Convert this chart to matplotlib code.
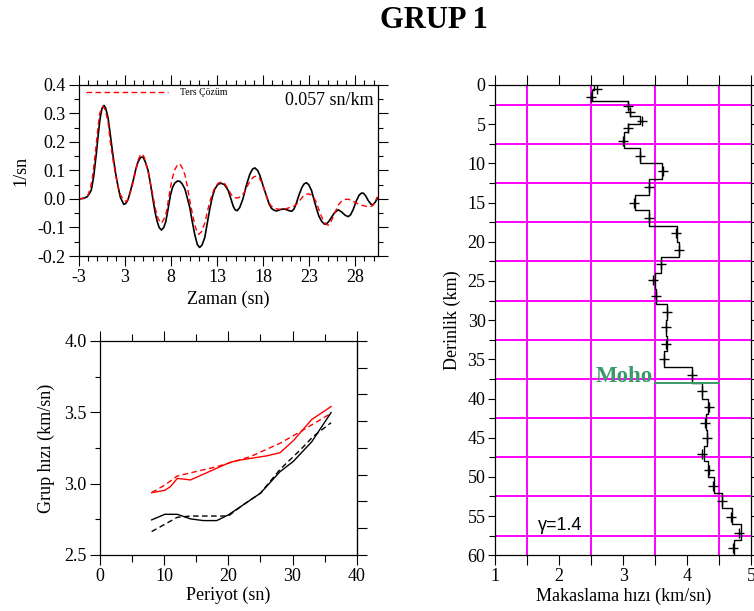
import numpy as np
import matplotlib
matplotlib.use("Agg")
import matplotlib.pyplot as plt
from matplotlib.ticker import MultipleLocator, FixedLocator

plt.rcParams['font.family'] = ['Liberation Serif', 'DejaVu Serif']
plt.rcParams['xtick.direction'] = 'out'
plt.rcParams['ytick.direction'] = 'out'

# --- ust panel: dalga formlari (zaman, genlik) ---
t_gozlem = [-2, -1.5, -1.1, -0.85, -0.66, -0.4, -0.12, 0.1, 0.3, 0.5, 0.72, 0.9, 1.15, 1.4,
            1.7, 2.0, 2.24, 2.5, 2.86, 3.1, 3.33, 3.6, 3.9, 4.15, 4.4, 4.7, 4.96, 5.2, 5.5,
            5.75, 6.04, 6.25, 6.48, 6.7, 6.95, 7.2, 7.42, 7.7, 7.93, 8.15, 8.4, 8.7, 8.94,
            9.2, 9.5, 9.75, 10.03, 10.3, 10.57, 10.85, 11.1, 11.35, 11.66, 11.9, 12.2, 12.5,
            12.75, 13.1, 13.47, 13.8, 14.2, 14.5, 14.74, 14.95, 15.17, 15.45, 15.8, 16.15,
            16.55, 16.85, 17.1, 17.4, 17.64, 18.0, 18.36, 18.65, 18.9, 19.2, 19.45, 19.8,
            20.17, 20.5, 20.8, 21.1, 21.35, 21.6, 21.9, 22.2, 22.45, 22.7, 22.95, 23.25,
            23.5, 23.8, 24.05, 24.34, 24.6, 24.8, 25.1, 25.4, 25.75, 26.15, 26.5, 26.9,
            27.24, 27.5, 27.8, 28.1, 28.43, 28.7, 28.9, 29.15, 29.4, 29.7, 29.9, 30.15, 30.4]
a_gozlem = [0.0, 0.002, 0.008, 0.02, 0.032, 0.08, 0.16, 0.23, 0.285, 0.318, 0.328, 0.318,
            0.285, 0.225, 0.15, 0.085, 0.043, 0.005, -0.019, -0.015, -0.002, 0.03, 0.067,
            0.102, 0.13, 0.146, 0.147, 0.13, 0.10, 0.055, -0.004, -0.045, -0.078, -0.1,
            -0.109, -0.1, -0.08, -0.03, 0.014, 0.04, 0.056, 0.063, 0.062, 0.053, 0.035,
            0.005, -0.03, -0.08, -0.125, -0.16, -0.17, -0.162, -0.135, -0.09, -0.035, 0.01,
            0.035, 0.052, 0.055, 0.05, 0.03, 0.0, -0.025, -0.038, -0.041, -0.03, 0.0,
            0.045, 0.087, 0.105, 0.109, 0.1, 0.083, 0.045, 0.01, -0.018, -0.033, -0.04,
            -0.042, -0.038, -0.035, -0.037, -0.041, -0.043, -0.035, -0.015, 0.015, 0.04,
            0.053, 0.057, 0.05, 0.03, 0.0, -0.035, -0.06, -0.078, -0.087, -0.089, -0.08,
            -0.065, -0.048, -0.038, -0.045, -0.057, -0.062, -0.055, -0.035, -0.008, 0.014,
            0.021, 0.02, 0.01, -0.005, -0.018, -0.021, -0.012, 0.002]

t_ters = [-2, -1.5, -1.02, -0.75, -0.48, -0.2, 0.07, 0.25, 0.43, 0.6, 0.8, 1.0, 1.15, 1.4,
          1.7, 2.0, 2.24, 2.5, 2.78, 3.14, 3.4, 3.65, 3.9, 4.15, 4.4, 4.65, 4.88, 5.1, 5.3,
          5.5, 5.75, 6.04, 6.3, 6.6, 6.95, 7.2, 7.5, 7.75, 7.93, 8.15, 8.4, 8.7, 8.94, 9.2,
          9.5, 9.75, 10.03, 10.3, 10.57, 10.8, 11.0, 11.3, 11.66, 11.9, 12.2, 12.5, 12.75,
          13.1, 13.47, 13.8, 14.2, 14.5, 14.74, 15.0, 15.3, 15.65, 16.0, 16.35, 16.73,
          17.0, 17.27, 17.55, 17.82, 18.2, 18.54, 18.8, 19.1, 19.5, 19.8, 20.2, 20.5,
          20.9, 21.25, 21.55, 21.8, 22.05, 22.3, 22.6, 22.9, 23.2, 23.45, 23.75, 24.0,
          24.25, 24.5, 24.8, 25.07, 25.35, 25.6, 25.9, 26.15, 26.45, 26.7, 27.0, 27.24,
          27.6, 27.97, 28.35, 28.7, 29.05, 29.4, 29.7, 29.9, 30.15, 30.4]
a_ters = [0.0, 0.003, 0.014, 0.04, 0.09, 0.17, 0.255, 0.3, 0.318, 0.325, 0.315, 0.292,
          0.27, 0.2, 0.135, 0.08, 0.043, 0.015, 0.0, -0.01, 0.005, 0.03, 0.062, 0.1, 0.135,
          0.153, 0.158, 0.145, 0.12, 0.097, 0.055, 0.01, -0.035, -0.07, -0.085, -0.072,
          -0.045, 0.005, 0.04, 0.075, 0.103, 0.12, 0.123, 0.11, 0.085, 0.045, -0.005,
          -0.05, -0.09, -0.115, -0.124, -0.115, -0.085, -0.05, -0.01, 0.02, 0.04, 0.055,
          0.06, 0.055, 0.035, 0.017, 0.007, 0.004, 0.004, 0.01, 0.025, 0.05, 0.07, 0.078,
          0.08, 0.075, 0.06, 0.025, -0.005, -0.022, -0.031, -0.035, -0.036, -0.035, -0.034,
          -0.03, -0.027, -0.02, -0.013, -0.002, 0.008, 0.015, 0.018, 0.015, 0.008, -0.01,
          -0.033, -0.055, -0.073, -0.088, -0.092, -0.08, -0.062, -0.04, -0.021, -0.01,
          -0.004, -0.001, -0.001, -0.005, -0.012, -0.018, -0.022, -0.025, -0.027, -0.026,
          -0.023, -0.01, 0.008]

zaman_tick = [-2, 3, 8, 13, 18, 23, 28]
zaman_etiket = ['-3', '3', '8', '13', '18', '23', '28']
yavaslik = '0.057 sn/km'

# --- alt panel: grup hizi dispersiyonu ---
p_kirmizi = [8.05, 10.1, 11.0, 12.05, 14.1, 20.3, 21.8, 26.0, 28.05, 30.1, 33.0, 36.0]
u_kirmizi = [2.937, 2.953, 2.98, 3.037, 3.026, 3.15, 3.165, 3.195, 3.217, 3.30, 3.45, 3.54]
p_kirmizi_k = [8.05, 10.1, 12.05, 18.2, 23.4, 28.05, 31.2, 36.0]
u_kirmizi_k = [2.937, 2.99, 3.054, 3.119, 3.189, 3.283, 3.364, 3.493]
p_siyah = [8.05, 10.1, 12.05, 14.1, 16.1, 18.2, 20.0, 22.3, 25.0, 28.05, 30.1, 33.0, 36.0]
u_siyah = [2.746, 2.785, 2.785, 2.753, 2.741, 2.741, 2.781, 2.851, 2.933, 3.084, 3.155, 3.294, 3.498]
p_siyah_k = [8.05, 12.05, 14.1, 20.0, 22.3, 25.0, 28.05, 31.2, 33.2, 36.0]
u_siyah_k = [2.664, 2.764, 2.773, 2.773, 2.851, 2.933, 3.10, 3.236, 3.33, 3.427]

# --- sag panel: makaslama hizi profili ---
tabaka_ust = [0, 0.7, 2, 3, 4, 5, 6, 8, 10, 12, 14, 16, 18, 20, 22, 24, 26, 28, 30, 32,
              34, 36, 38, 40, 42, 44, 46, 48, 50, 52, 54, 56, 58]
tabaka_v = [2.55, 2.51, 3.07, 3.11, 3.27, 3.08, 3.01, 3.27, 3.61, 3.41, 3.18, 3.40, 3.84,
            3.88, 3.59, 3.50, 3.52, 3.69, 3.67, 3.68, 3.64, 4.07, 4.24, 4.33, 4.29, 4.31,
            4.26, 4.33, 4.42, 4.55, 4.71, 4.84, 4.73]
arti_d = [0.55, 1.57, 2.67, 3.5, 4.6, 5.5, 7.1, 9.0, 11.0, 13.0, 15.0, 17.0, 18.9, 21.0,
          22.9, 24.9, 26.9, 28.9, 30.9, 33.1, 35.0, 37.0, 39.1, 41.1, 43.1, 45.0, 47.05,
          49.1, 51.1, 53.1, 55.1, 57.1, 59.1]
arti_v = [2.59, 2.49, 3.08, 3.11, 3.30, 3.08, 3.0, 3.26, 3.625, 3.40, 3.17, 3.40, 3.83,
          3.88, 3.59, 3.47, 3.51, 3.69, 3.67, 3.67, 3.64, 4.07, 4.24, 4.34, 4.28, 4.31,
          4.24, 4.34, 4.41, 4.54, 4.69, 4.82, 4.72]
moho_derinlik = 38
gamma = 1.4

fig = plt.figure(figsize=(7.54, 6.11), dpi=100)
fig.text(0.576, 0.966, 'GRUP 1', ha='center', va='center', fontsize=22, fontweight='bold')


def cerceve(ax):
    ax.tick_params(which='both', top=True, right=True, labelsize=13, width=0.8,
                   color='black', pad=2)
    ax.tick_params(which='major', length=7.5)
    ax.tick_params(which='minor', length=3.5)
    for s in ax.spines.values():
        s.set_linewidth(0.9)


kesik = (0, (4, 2.5))

# ust sol
ax1 = fig.add_axes([0.1048, 0.581, 0.3969, 0.280])
ax1.plot(t_gozlem, a_gozlem, color='black', lw=1.2)
ax1.plot(t_ters, a_ters, color='red', lw=1.0, ls=kesik, label='Ters Çözüm')
ax1.set_xlim(-2, 30.5)
ax1.set_ylim(-0.2, 0.4)
ax1.xaxis.set_major_locator(FixedLocator(zaman_tick))
ax1.set_xticklabels(zaman_etiket)
ax1.xaxis.set_minor_locator(MultipleLocator(1))
ax1.yaxis.set_major_locator(MultipleLocator(0.1))
ax1.yaxis.set_minor_locator(MultipleLocator(0.05))
ax1.set_yticklabels([f'{v:.1f}' for v in ax1.get_yticks()])
cerceve(ax1)
ax1.set_xlabel('Zaman (sn)', fontsize=13, labelpad=3)
ax1.set_ylabel('1/sn', fontsize=13, labelpad=6)
ax1.legend(loc='upper left', fontsize=7, frameon=False, handlelength=8.5,
           bbox_to_anchor=(0.0, 1.02), borderaxespad=0.3, handletextpad=1.2)
ax1.text(0.985, 0.91, yavaslik, transform=ax1.transAxes, ha='right', va='center',
         fontsize=13)

# alt sol
ax2 = fig.add_axes([0.1326, 0.0917, 0.3405, 0.3502])
ax2.plot(p_kirmizi, u_kirmizi, color='red', lw=1.0)
ax2.plot(p_kirmizi_k, u_kirmizi_k, color='red', lw=1.0, ls=kesik)
ax2.plot(p_siyah, u_siyah, color='black', lw=1.0)
ax2.plot(p_siyah_k, u_siyah_k, color='black', lw=1.0, ls=kesik)
ax2.set_xlim(0, 40)
ax2.set_ylim(2.5, 4.0)
ax2.xaxis.set_major_locator(MultipleLocator(10))
ax2.xaxis.set_minor_locator(MultipleLocator(5))
ax2.yaxis.set_major_locator(MultipleLocator(0.5))
ax2.yaxis.set_minor_locator(MultipleLocator(0.25))
ax2.set_yticklabels([f'{v:.1f}' for v in ax2.get_yticks()])
cerceve(ax2)
ax2.tick_params(axis='x', which='minor', top=True, length=5)
ax2.tick_params(which='both', right=False)
sag = ax2.secondary_yaxis('right')
sag.set_yticks(np.linspace(2.5, 4.0, 9))
sag.set_yticklabels([])
sag.tick_params(length=7.5, width=0.8)
ax2.set_xlabel('Periyot (sn)', fontsize=13, labelpad=1)
ax2.set_ylabel('Grup hızı (km/sn)', fontsize=13, labelpad=7)

# sag panel
ax3 = fig.add_axes([0.6569, 0.0912, 0.3391, 0.7697])
for v in [1.5, 2.5, 3.5, 4.5]:
    ax3.axvline(v, color='#ff00ff', lw=1.4, zorder=1)
for d in np.arange(2.5, 60, 5):
    ax3.axhline(d, color='#ff00ff', lw=1.4, zorder=1)
ax3.step(tabaka_v + [tabaka_v[-1]], tabaka_ust + [60], where='pre', color='black', lw=1.0,
         zorder=3)
ax3.plot(arti_v, arti_d, ls='none', marker='+', ms=7, mew=1.0, color='black', zorder=4)
ax3.plot([3.5, 4.5], [moho_derinlik, moho_derinlik], color='#3a9a6a', lw=1.4, zorder=4)
ax3.text(3.46, moho_derinlik - 0.1, 'Moho', color='#3a9a6a', fontsize=16.5,
         fontweight='bold', ha='right', va='baseline')
ax3.text(1.66, 56.8, f'γ={gamma}', family=['Liberation Sans', 'DejaVu Sans'], fontsize=13,
         ha='left', va='baseline')
ax3.set_xlim(1, 5)
ax3.set_ylim(60, 0)
ax3.xaxis.set_major_locator(MultipleLocator(1))
ax3.xaxis.set_minor_locator(MultipleLocator(0.5))
ax3.yaxis.set_major_locator(MultipleLocator(5))
ax3.yaxis.set_minor_locator(MultipleLocator(2.5))
cerceve(ax3)
ax3.tick_params(which='major', length=5)
ax3.tick_params(which='minor', length=4)
ax3.tick_params(axis='x', which='both', top=True, length=7)
ax3.set_xlabel('Makaslama hızı (km/sn)', fontsize=13, labelpad=2)
ax3.set_ylabel('Derinlik (km)', fontsize=13, labelpad=5)

fig.savefig('out.png', dpi=100)
